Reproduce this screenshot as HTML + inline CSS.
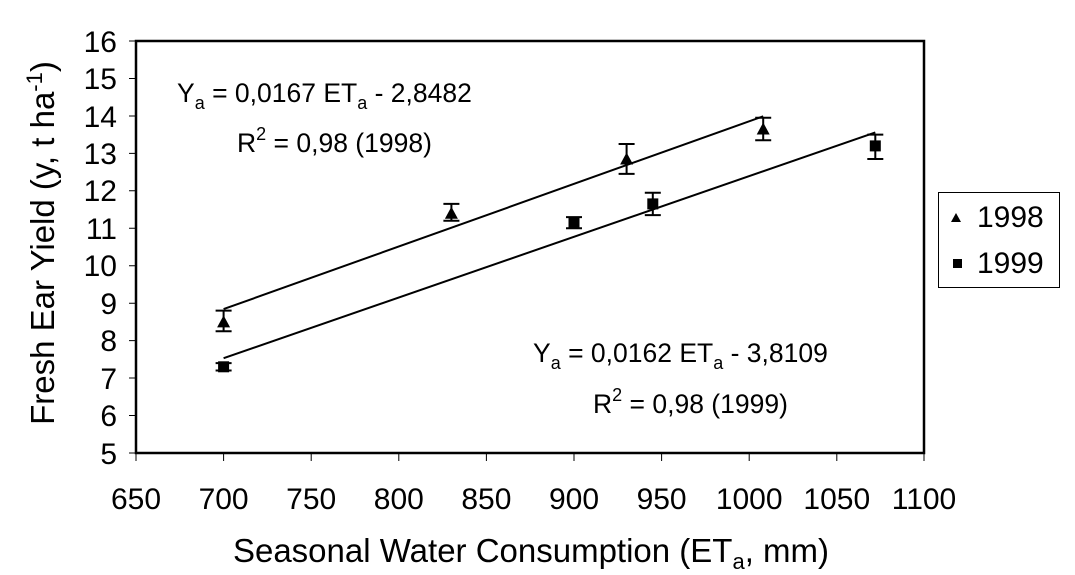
<!DOCTYPE html>
<html><head><style>body{margin:0;background:#fff}svg{display:block}</style></head>
<body>
<svg width="1075" height="575" xmlns="http://www.w3.org/2000/svg" font-family="Liberation Sans, Arial, sans-serif" fill="#000">
<rect width="1075" height="575" fill="#fff"/>
<path d="M136,41 H924 V453 H136 Z" fill="none" stroke="#000" stroke-width="2.5"/>
<g stroke="#000" stroke-width="1">
<path d="M129,41H136M129,78.5H136M129,116H136M129,153.4H136M129,190.8H136M129,228.3H136M129,265.7H136M129,303.2H136M129,340.6H136M129,378H136M129,415.5H136M129,453H136"/>
<path d="M136,453V461M223.6,453V461M311.2,453V461M398.8,453V461M486.4,453V461M574,453V461M661.6,453V461M749.2,453V461M836.8,453V461M924,453V461"/>
</g>
<g font-size="30" text-anchor="end">
<text x="117" y="52">16</text><text x="117" y="89">15</text><text x="117" y="127">14</text><text x="117" y="164">13</text><text x="117" y="201">12</text><text x="117" y="239">11</text><text x="117" y="276">10</text><text x="117" y="314">9</text><text x="117" y="351">8</text><text x="117" y="389">7</text><text x="117" y="426">6</text><text x="117" y="464">5</text>
</g>
<g font-size="30" text-anchor="middle">
<text x="136" y="509">650</text><text x="223.6" y="509">700</text><text x="311.2" y="509">750</text><text x="398.8" y="509">800</text><text x="486.4" y="509">850</text><text x="574" y="509">900</text><text x="661.6" y="509">950</text><text x="749.2" y="509">1000</text><text x="836.8" y="509">1050</text><text x="924" y="509">1100</text>
</g>
<g text-anchor="middle" font-size="33">
<text x="531" y="562">Seasonal Water Consumption (ET<tspan font-size="22" dy="7">a</tspan><tspan dy="-7">, mm)</tspan></text>
<text transform="translate(54,243) rotate(-90)">Fresh Ear Yield (y, t ha<tspan font-size="22" dy="-12">-1</tspan><tspan dy="12">)</tspan></text>
</g>
<g stroke="#000" stroke-width="2">
<line x1="223.6" y1="309.1" x2="763.2" y2="116.3"/>
<line x1="223.6" y1="358.2" x2="875.3" y2="132.4"/>
</g>
<g stroke="#000" stroke-width="2" fill="none">
<path d="M223.6,310.6V331.2M215.6,310.6H231.6M215.6,331.2H231.6"/>
<path d="M451.4,203.9V220.8M443.4,203.9H459.4M443.4,220.8H459.4"/>
<path d="M626.6,144V173.9M618.6,144H634.6M618.6,173.9H634.6"/>
<path d="M763.2,117.8V140.2M755.2,117.8H771.2M755.2,140.2H771.2"/>
<path d="M223.6,363.1V370.5M215.6,363.1H231.6M215.6,370.5H231.6"/>
<path d="M574,217.1V228.3M566,217.1H582M566,228.3H582"/>
<path d="M652.8,192.7V215.1M644.8,192.7H660.8M644.8,215.1H660.8"/>
<path d="M875.3,134.6V159M867.3,134.6H883.3M867.3,159H883.3"/>
</g>
<g>
<path d="M223.6,315.4l6.5,12h-13z"/><path d="M451.4,206.8l6.5,12h-13z"/><path d="M626.6,152.5l6.5,12h-13z"/><path d="M763.2,122.5l6.5,12h-13z"/>
<rect x="218.1" y="361.3" width="11" height="11"/><rect x="568.5" y="217.1" width="11" height="11"/><rect x="647.3" y="198.4" width="11" height="11"/><rect x="869.8" y="140.4" width="11" height="11"/>
</g>
<g font-size="26.5">
<text x="177" y="102">Y<tspan font-size="18" dy="7">a</tspan><tspan dy="-7"> = 0,0167 ET</tspan><tspan font-size="18" dy="7">a</tspan><tspan dy="-7"> - 2,8482</tspan></text>
<text x="237" y="152">R<tspan font-size="18" dy="-12">2</tspan><tspan dy="12"> = 0,98 (1998)</tspan></text>
<text x="533" y="362">Y<tspan font-size="18" dy="7">a</tspan><tspan dy="-7"> = 0,0162 ET</tspan><tspan font-size="18" dy="7">a</tspan><tspan dy="-7"> - 3,8109</tspan></text>
<text x="593" y="413">R<tspan font-size="18" dy="-12">2</tspan><tspan dy="12"> = 0,98 (1999)</tspan></text>
</g>
<rect x="938.5" y="192.5" width="121" height="95" fill="#fff" stroke="#000" stroke-width="1"/>
<path d="M956,213l5,9h-10z"/>
<rect x="953" y="259" width="9" height="9"/>
<g font-size="30"><text x="977" y="227">1998</text><text x="977" y="273">1999</text></g>
</svg>
</body></html>
